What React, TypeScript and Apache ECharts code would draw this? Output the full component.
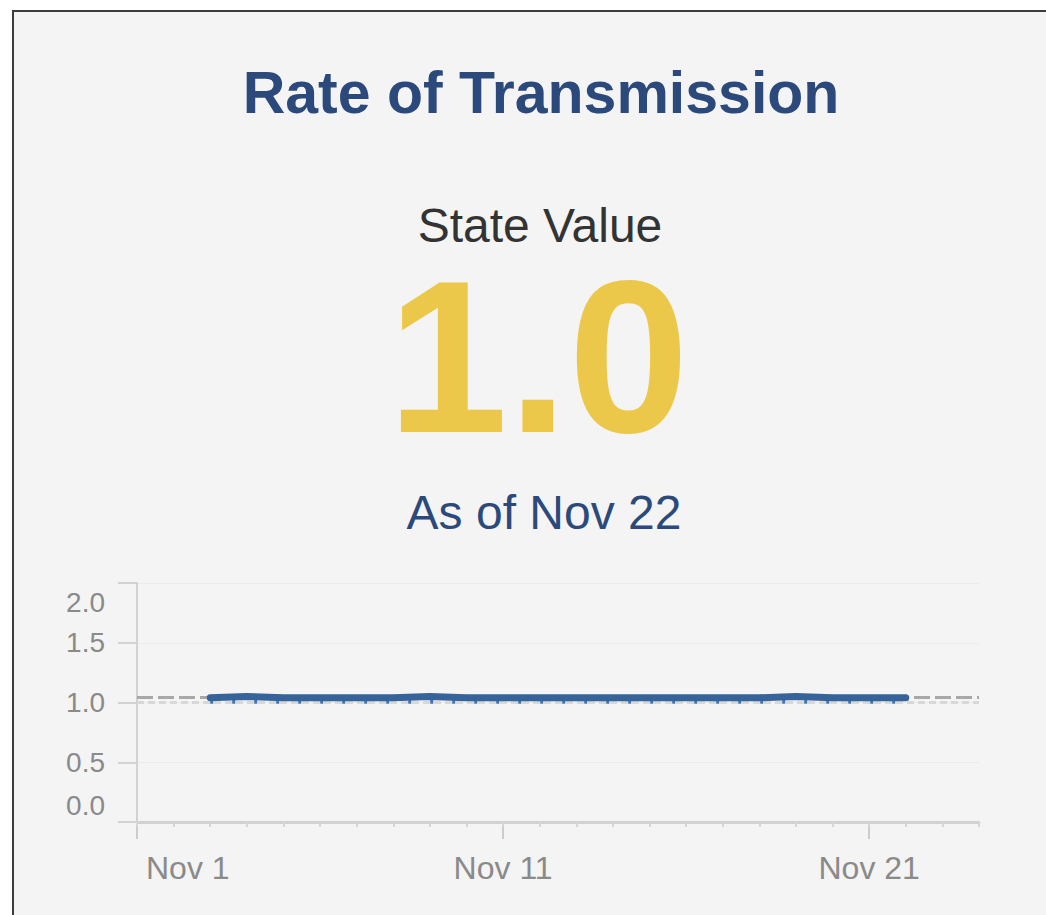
import React, { useEffect, useRef } from "react";
import * as echarts from "echarts";

const titleText = "Rate of Transmission";
const subtitleText = "State Value";
const bigValue = "1.0";
const asOfText = "As of Nov 22";

const days = [
  "Nov 1", "Nov 2", "Nov 3", "Nov 4", "Nov 5", "Nov 6", "Nov 7", "Nov 8",
  "Nov 9", "Nov 10", "Nov 11", "Nov 12", "Nov 13", "Nov 14", "Nov 15", "Nov 16",
  "Nov 17", "Nov 18", "Nov 19", "Nov 20", "Nov 21", "Nov 22", "Nov 23", "Nov 24",
];

// Rt estimate per day (null where no data)
const rtValues = [
  null, null, 1.04, 1.05, 1.04, 1.04, 1.04, 1.04,
  1.05, 1.04, 1.04, 1.04, 1.04, 1.04, 1.04, 1.04,
  1.04, 1.04, 1.05, 1.04, 1.04, 1.04, null, null,
];
const rtLower = [
  null, null, 1.01, 1.01, 1.01, 1.01, 1.01, 1.01,
  1.01, 1.01, 1.01, 1.01, 1.01, 1.01, 1.01, 1.01,
  1.01, 1.01, 1.01, 1.01, 1.01, 1.01, null, null,
];

const referenceValue = 1.04;
const thresholdValue = 1.0;
const yTicks = [0, 0.5, 1.0, 1.5, 2.0];
const majorLabels = ["Nov 1", "Nov 11", "Nov 21"];

export default function App() {
  const ref = useRef<HTMLDivElement>(null);

  useEffect(() => {
    if (!ref.current) return;
    const chart = echarts.init(ref.current, undefined, { renderer: "svg" });
    const font = "'Liberation Sans', Arial, Helvetica, sans-serif";
    chart.setOption({
      animation: false,
      backgroundColor: "#ffffff",
      textStyle: { fontFamily: font },
      graphic: [
        {
          type: "rect",
          z: -10,
          shape: { x: 13, y: 11, width: 1100, height: 1000 },
          style: { fill: "#f4f4f4", stroke: "#3c3c3c", lineWidth: 2 },
        },
        {
          type: "text",
          x: 541,
          y: 93,
          style: {
            text: titleText,
            fontFamily: font,
            fontSize: 59,
            fontWeight: "bold",
            fill: "#2b4a7b",
            align: "center",
            verticalAlign: "middle",
          },
        },
        {
          type: "text",
          x: 540,
          y: 225,
          style: {
            text: subtitleText,
            fontFamily: font,
            fontSize: 48,
            lineHeight: 40,
            fill: "#333333",
            align: "center",
            verticalAlign: "middle",
          },
        },
        {
          type: "text",
          x: 538,
          y: 357,
          style: {
            text: bigValue,
            fontFamily: font,
            fontSize: 217,
            lineHeight: 165,
            fontWeight: "bold",
            fill: "#ecc84a",
            align: "center",
            verticalAlign: "middle",
          },
        },
        {
          type: "text",
          x: 544,
          y: 512,
          style: {
            text: asOfText,
            fontFamily: font,
            fontSize: 48,
            fill: "#2b4a7b",
            align: "center",
            verticalAlign: "middle",
          },
        },
      ],
      grid: { left: 137, top: 583, width: 842, height: 239, containLabel: false },
      xAxis: [
        {
          type: "category",
          data: days,
          boundaryGap: false,
          axisLine: { show: true, lineStyle: { color: "#d2d2d2", width: 3 } },
          axisTick: {
            show: true,
            length: 17,
            interval: (i: number) => i % 10 === 0,
            lineStyle: { color: "#cccccc", width: 2 },
          },
          axisLabel: {
            interval: (i: number) => i % 10 === 0,
            color: "#8a8a8a",
            fontSize: 32,
            fontFamily: font,
            margin: 30,
            alignMinLabel: "left",
            formatter: (v: string) =>
              majorLabels.indexOf(v) === 0 ? "{f|" + v + "}" : v,
            rich: { f: { padding: [0, 0, 0, 9], fontSize: 32, color: "#8a8a8a" } },
          },
          splitLine: { show: false },
        },
        {
          type: "category",
          data: days,
          boundaryGap: false,
          position: "bottom",
          axisLine: { show: false },
          axisTick: {
            show: true,
            length: 5,
            interval: 0,
            lineStyle: { color: "#d6d6d6", width: 2 },
          },
          axisLabel: { show: false },
          splitLine: { show: false },
        },
      ],
      yAxis: {
        type: "value",
        min: 0,
        max: 2,
        interval: 0.5,
        axisLine: { show: true, lineStyle: { color: "#d2d2d2", width: 2 } },
        axisTick: { show: true, length: 19, lineStyle: { color: "#d2d2d2", width: 2 } },
        axisLabel: {
          color: "#8a8a8a",
          fontSize: 28,
          fontFamily: font,
          margin: 32,
          verticalAlignMinLabel: "bottom",
          verticalAlignMaxLabel: "top",
          formatter: (v: number) => {
            if (yTicks.indexOf(v) < 0) return "";
            if (v === 2) return "{t|" + v.toFixed(1) + "}";
            if (v === 0) return "{b|" + v.toFixed(1) + "}";
            return v.toFixed(1);
          },
          rich: {
            t: { padding: [5, 0, 0, 0], fontSize: 28, color: "#8a8a8a" },
            b: { padding: [0, 0, 3, 0], fontSize: 28, color: "#8a8a8a" },
          },
        },
        splitLine: { show: true, lineStyle: { color: "#ebebeb", width: 1 } },
      },
      series: [
        {
          type: "line",
          data: [],
          xAxisIndex: 0,
          symbol: "none",
          z: 1,
          markLine: {
            silent: true,
            symbol: "none",
            z: 1,
            label: { show: false },
            data: [
              { yAxis: thresholdValue, lineStyle: { color: "#d8d8d8", width: 3, type: [7, 4] } },
              { yAxis: referenceValue, lineStyle: { color: "#a8a8a8", width: 3, type: [16, 5] } },
            ],
          },
        },
        {
          type: "line",
          data: rtLower,
          xAxisIndex: 0,
          symbol: "none",
          z: 3,
          lineStyle: { color: "#4674aa", width: 5, type: [3, 19] },
        },
        {
          type: "line",
          data: rtValues,
          xAxisIndex: 0,
          symbol: "none",
          z: 4,
          lineStyle: { color: "#36649a", width: 7, cap: "round", join: "round" },
        },
      ],
    });
    return () => chart.dispose();
  }, []);

  return (
    <div
      ref={ref}
      style={{ position: "fixed", left: 0, top: 0, width: 1046, height: 915 }}
    />
  );
}
